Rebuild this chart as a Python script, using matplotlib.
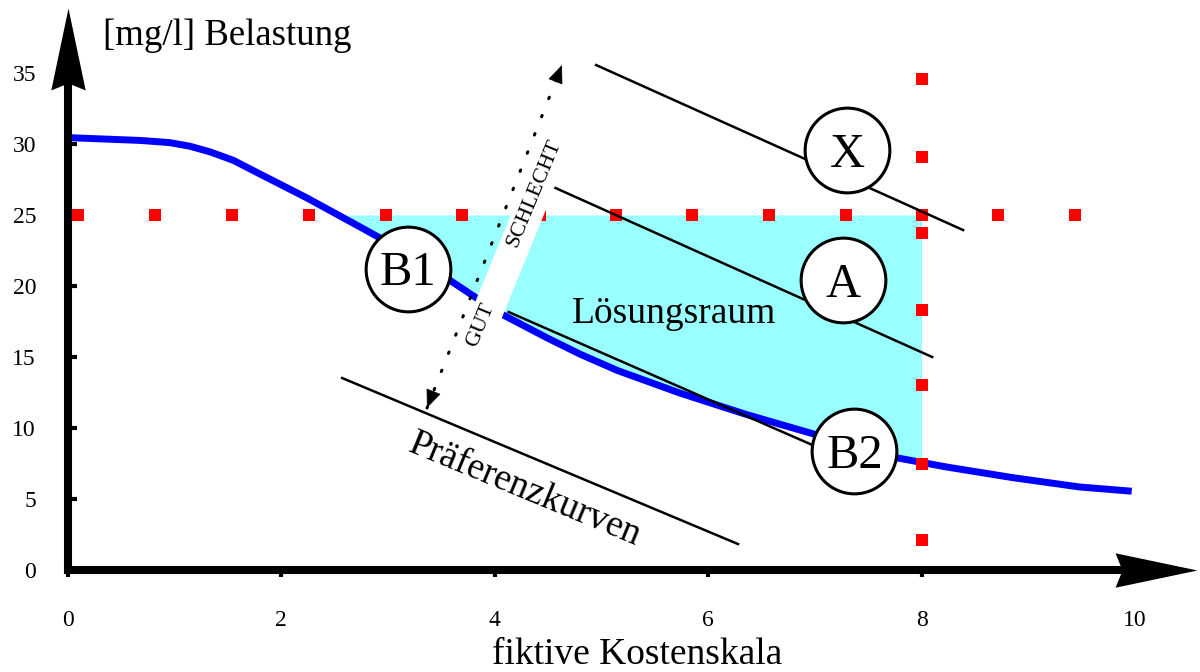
import matplotlib.pyplot as plt
from matplotlib.path import Path

plt.rcParams['font.family'] = ['Liberation Serif', 'DejaVu Serif']

# blaue Kurve
kosten = [0.0, 0.68, 0.95, 1.14, 1.33, 1.55, 1.77, 2.24, 2.74, 2.92, 3.58, 3.83, 4.07,
          4.49, 4.80, 5.15, 5.74, 6.36, 6.98, 7.77, 8.0, 8.24, 8.86, 9.48, 9.97]
belastung = [30.45, 30.25, 30.1, 29.85, 29.45, 28.85, 28.0, 26.2, 24.15, 23.4, 20.4, 19.15, 18.0,
             16.35, 15.2, 14.05, 12.45, 10.95, 9.6, 7.9, 7.58, 7.25, 6.5, 5.85, 5.55]

grenzwert = 25
kosten_max = 8

# rote Rasterpunkte
raster_x = [0.09, 0.82, 1.54, 2.26, 2.98, 3.69, 4.42, 5.14, 5.85, 6.57, 7.29, 8.0, 8.72, 9.44]
raster_y = [34.6, 29.1, 25.0, 23.7, 18.3, 13.0, 7.5, 2.1]

# Praeferenzkurven (Anfang, Ende)
praef_x = [(4.95, 8.39), (4.57, 8.10), (4.13, 7.0), (2.57, 6.28)]
praef_y = [(35.56, 23.94), (26.9, 15.0), (18.17, 8.73), (13.52, 1.83)]

kreis_namen = ['X', 'A', 'B1', 'B2']
kreis_x = [7.305, 7.263, 3.187, 7.371]
kreis_y = [29.58, 20.39, 21.23, 8.35]

# gut/schlecht Pfeil
pfeil_x = [3.365, 4.63]
pfeil_y = [11.41, 35.56]

# weisser Streifen hinter GUT / SCHLECHT
band_x = [3.749, 4.039, 4.555, 4.246]
band_y = [17.61, 17.25, 26.76, 26.76]

xticks = [0, 2, 4, 6, 8, 10]
yticks = [0, 5, 10, 15, 20, 25, 30, 35]

fig = plt.figure(figsize=(12, 6.72), dpi=100)
ax = fig.add_axes([0, 0, 1, 1])
ax.set_xlim(-0.637, 10.61)
ax.set_ylim(-7.18, 40.14)

# Loesungsraum
kx = [k for k in kosten if k <= kosten_max]
ky = belastung[:len(kx)]
ax.fill_between(kx, ky, grenzwert, where=[b <= grenzwert for b in ky],
                interpolate=True, color='#99ffff', lw=0, zorder=1)

ax.plot(kosten, belastung, color='#0000ff', lw=5, solid_capstyle='butt',
        solid_joinstyle='round', zorder=2)

ax.plot(raster_x, [grenzwert] * len(raster_x), ls='none', marker='s', ms=9,
        mew=0, color='#ff0000', zorder=3)
ax.plot([kosten_max] * len(raster_y), raster_y, ls='none', marker='s', ms=9,
        mew=0, color='#ff0000', zorder=3)

ax.fill(band_x, band_y, color='white', lw=0, zorder=4)

for xs, ys in zip(praef_x, praef_y):
    ax.plot(xs, ys, color='black', lw=1.8, zorder=5)

# gepunkteter Doppelpfeil
ax.plot(pfeil_x, pfeil_y, color='black', lw=2.2, ls=(0, (0.5, 5.9)),
        dash_capstyle='round', zorder=5)
dx = pfeil_x[1] - pfeil_x[0]
dy = pfeil_y[1] - pfeil_y[0]
for i, s in [(1, -0.05), (0, 0.05)]:
    ax.annotate('', xy=(pfeil_x[i], pfeil_y[i]),
                xytext=(pfeil_x[i] + s * dx, pfeil_y[i] + s * dy),
                arrowprops=dict(arrowstyle='-|>,head_length=0.6,head_width=0.25',
                                mutation_scale=20, lw=0.5, color='black',
                                shrinkA=0, shrinkB=0), zorder=5)

# Kreise
ax.plot(kreis_x, kreis_y, ls='none', marker='o', ms=61, mfc='white',
        mec='black', mew=2.2, zorder=6)
for name, x, y in zip(kreis_namen, kreis_x, kreis_y):
    ax.annotate(name, (x, y), xytext=(0, -12), textcoords='offset points',
                ha='center', va='baseline', fontsize=35, zorder=7)

# Achsen
for s in ['top', 'right']:
    ax.spines[s].set_visible(False)
ax.spines['left'].set_position(('data', 0))
ax.spines['bottom'].set_position(('data', 0))
ax.spines['left'].set_bounds(0, 35)
ax.spines['bottom'].set_bounds(0, 10)
ax.spines['left'].set_linewidth(5.8)
ax.spines['bottom'].set_linewidth(5.8)

ax.set_xticks(xticks)
ax.set_xticklabels([str(t) for t in xticks])
ax.set_yticks(yticks)
ax.set_yticklabels([str(t) for t in yticks])
ax.tick_params(axis='x', direction='out', length=5, width=3, pad=24, labelsize=17)
ax.tick_params(axis='y', direction='in', length=6.5, width=3, pad=23, labelsize=17)

pfeil_r = Path([(0, 0), (-1, 0.21), (-0.915, 0), (-1, -0.21), (0, 0)],
               [Path.MOVETO, Path.LINETO, Path.LINETO, Path.LINETO, Path.CLOSEPOLY])
pfeil_o = Path([(0, 0), (0.21, -1), (0, -0.915), (-0.21, -1), (0, 0)],
               [Path.MOVETO, Path.LINETO, Path.LINETO, Path.LINETO, Path.CLOSEPOLY])
ax.plot([10.58], [0], marker=pfeil_r, ms=118, mew=0, color='black', clip_on=False, zorder=8)
ax.plot([0], [39.58], marker=pfeil_o, ms=118, mew=0, color='black', clip_on=False, zorder=8)

# Texte
ax.text(0.328, 36.97, '[mg/l] Belastung', fontsize=26.5, ha='left', va='baseline')
ax.text(5.33, -6.62, 'fiktive Kostenskala', fontsize=27, ha='center', va='baseline')
ax.text(5.68, 17.39, 'Lösungsraum', fontsize=27, ha='center', va='baseline', zorder=7)
ax.text(4.283, 5.63, 'Präferenzkurven', fontsize=27, ha='center', va='center',
        rotation=-22.5, zorder=7)
ax.text(4.37, 26.55, 'SCHLECHT', fontsize=16, ha='center', va='center',
        rotation=67.5, zorder=7)
ax.text(3.87, 17.25, 'GUT', fontsize=16, ha='center', va='center',
        rotation=67.5, zorder=7)

fig.savefig('out.png', dpi=100)
